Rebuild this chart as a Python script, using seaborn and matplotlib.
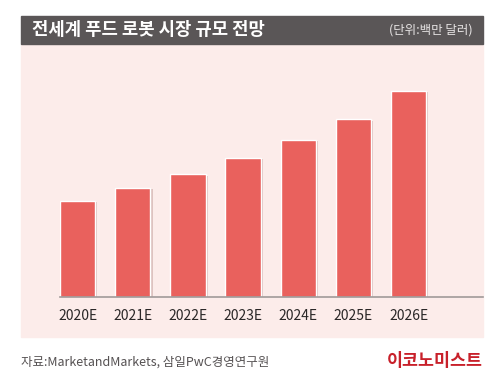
import matplotlib
matplotlib.use('Agg')
import matplotlib.pyplot as plt
import matplotlib.patches as mpatches
import matplotlib.patheffects as pe
import seaborn as sns
import pandas as pd

# Data (market size, million USD)
years = ['2020E', '2021E', '2022E', '2023E', '2024E', '2025E', '2026E']
market_size = [1900, 2160, 2430, 2750, 3110, 3520, 4080]

title = '전세계 푸드 로봇 시장 규모 전망'
unit = '(단위:백만 달러)'
source = '자료:MarketandMarkets, 삼일PwC경영연구원'
brand = '이코노미스트'

df = pd.DataFrame({'year': years, 'size': market_size})

sns.set_theme(style='white')
plt.rcParams['font.family'] = ['Noto Sans CJK KR', 'DejaVu Sans']

W, H = 504, 384
fig = plt.figure(figsize=(W / 100, H / 100), dpi=100)
fig.patch.set_facecolor('white')

# pink panel and dark header
fig.patches.append(mpatches.Rectangle((21 / W, 1 - 337 / H), 462 / W, 293 / H,
                                      transform=fig.transFigure, color='#fcecea', zorder=-5))
fig.patches.append(mpatches.Rectangle((21 / W, 1 - 44 / H), 462 / W, 28 / H,
                                      transform=fig.transFigure, color='#5a5657', zorder=-5))

ax = fig.add_axes([60 / W, 1 - 297 / H, 423 / W, 237 / H])
ax.set_zorder(2)
ax.set_facecolor('none')
sns.barplot(x='year', y='size', data=df, ax=ax, color='#e9615d', saturation=1, width=0.64)
for p in ax.patches:
    p.set_path_effects([pe.SimplePatchShadow(offset=(1.5, -1), shadow_rgbFace='#c9a9a5', alpha=0.6),
                        pe.Normal()])

ax.set_xlim(-0.32, 7.35)
ax.set_ylim(0, 4690)
ax.set_xlabel('')
ax.set_ylabel('')
ax.set_yticks([])
for s in ['top', 'right', 'left']:
    ax.spines[s].set_visible(False)
ax.spines['bottom'].set_color('#a09a99')
ax.spines['bottom'].set_linewidth(1.2)
ax.tick_params(axis='x', length=0, pad=9, labelsize=10, labelcolor='#2a2727')
for lbl in ax.get_xticklabels():
    lbl.set_fontweight('medium')

fig.text(32 / W, 1 - 30 / H, title, color='white', fontsize=12.8, fontweight='bold',
         va='center', ha='left')
fig.text(473 / W, 1 - 30 / H, unit, color='#e6e3e3', fontsize=9, va='center', ha='right')
fig.text(21 / W, 1 - 362 / H, source, color='#555152', fontsize=9, va='center', ha='left')
fig.text(483 / W, 1 - 361 / H, brand, color='#c8202a', fontsize=12.5, fontweight='bold',
         va='center', ha='right')

plt.savefig('out.png', dpi=100)
